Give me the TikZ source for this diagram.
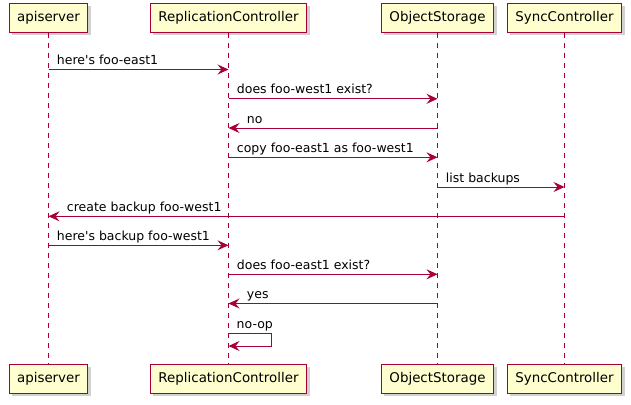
\documentclass[tikz,border=0pt]{standalone}
\usepackage{fontspec}
\setmainfont{DejaVu Sans}
\usepackage{tikz}
\usetikzlibrary{positioning,arrows.meta,shadows,calc}
\definecolor{umlred}{HTML}{A80036}
\definecolor{umlfill}{HTML}{FEFECE}

\begin{document}
\begin{tikzpicture}[x=1pt,y=-1pt,
            actor/.style={rectangle, draw=umlred, fill=umlfill, line width=1pt,
                minimum height=29pt, inner xsep=8pt,
                font=\fontsize{13.4}{16}\selectfont,
                drop shadow={shadow xshift=3pt, shadow yshift=-3pt, fill=black!40, opacity=0.45}},
            life/.style={draw=umlred, line width=0.9pt, dash pattern=on 5pt off 5pt},
            msg/.style={draw=umlred, line width=0.9pt,
                -{Stealth[length=11pt,width=10pt,inset=4pt]}},
            txt/.style={font=\fontsize{12.5}{15}\selectfont, inner sep=0pt, anchor=base west}]

            \useasboundingbox (0,0) rectangle (631,404);

            % participants, top and bottom
            \node [actor] (api) at (48.5,18) {apiserver};
            \node [actor] (rc) at (228.5,18) {ReplicationController};
            \node [actor] (os) at (437.5,18) {ObjectStorage};
            \node [actor] (sc) at (564.5,18) {SyncController};

            \node [actor] (apib) at (48.5,378.5) {apiserver};
            \node [actor] (rcb) at (228.5,378.5) {ReplicationController};
            \node [actor] (osb) at (437.5,378.5) {ObjectStorage};
            \node [actor] (scb) at (564.5,378.5) {SyncController};

            % lifelines
            \foreach \a/\b in {api/apib,rc/rcb,os/osb,sc/scb}
                \draw [life] (\a) -- (\b);

            % message rows
            \coordinate (m1) at (0,69.5);
            \coordinate (m2) at (0,98.8);
            \coordinate (m3) at (0,128);
            \coordinate (m4) at (0,157.3);
            \coordinate (m5) at (0,187);
            \coordinate (m6) at (0,216.3);
            \coordinate (m7) at (0,245.3);
            \coordinate (m8) at (0,274.3);
            \coordinate (m9) at (0,303.5);
            \coordinate (m10) at (0,333);
            \coordinate (m11) at (0,346);

            \draw [msg] (api |- m1) -- (rc |- m1)
                node [txt, pos=0, xshift=8pt, yshift=5pt] {here\textquotesingle s foo-east1};
            \draw [msg] (rc |- m2) -- (os |- m2)
                node [txt, pos=0, xshift=8pt, yshift=5pt] {does foo-west1 exist?};
            \draw [msg] (os |- m3) -- (rc |- m3)
                node [txt, pos=1, xshift=18pt, yshift=5pt] {no};
            \draw [msg] (rc |- m4) -- (os |- m4)
                node [txt, pos=0, xshift=8pt, yshift=5pt] {copy foo-east1 as foo-west1};
            \draw [msg] (os |- m5) -- (sc |- m5)
                node [txt, pos=0, xshift=8pt, yshift=5pt] {list backups};
            \draw [msg] (sc |- m6) -- (api |- m6)
                node [txt, pos=1, xshift=18pt, yshift=5pt] {create backup foo-west1};
            \draw [msg] (api |- m7) -- (rc |- m7)
                node [txt, pos=0, xshift=8pt, yshift=5pt] {here\textquotesingle s backup foo-west1};
            \draw [msg] (rc |- m8) -- (os |- m8)
                node [txt, pos=0, xshift=8pt, yshift=5pt] {does foo-east1 exist?};
            \draw [msg] (os |- m9) -- (rc |- m9)
                node [txt, pos=1, xshift=18pt, yshift=5pt] {yes};

            % self message
            \node [txt] (noop) at ($(rc |- m10)+(8,-5)$) {no-op};
            \draw [msg] (rc |- m10) -- ++(42.5,0) -- ++(0,13) -- (rc |- m11);

\end{tikzpicture}
\end{document}
